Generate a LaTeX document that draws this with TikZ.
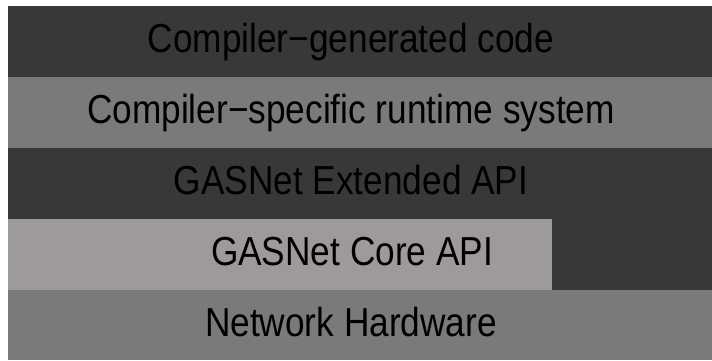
\documentclass[tikz,border=0pt]{standalone}
\usepackage{fontspec}
\setmainfont{Liberation Sans}
\definecolor{darkband}{HTML}{383838}
\definecolor{midband}{HTML}{7A7A7A}
\definecolor{lightband}{HTML}{9E9A9C}
\begin{document}
\begin{tikzpicture}[x=1pt,y=-1pt,
  lbl/.style={font=\fontsize{40.5}{42}\selectfont, text=black, xscale=0.87, inner sep=0pt, anchor=base}]
\useasboundingbox[fill=white] (0,0) rectangle (712,360);
\fill[darkband] (8,6) rectangle (712,77);
\fill[midband] (8,77) rectangle (712,148);
\fill[darkband] (8,148) rectangle (712,290);
\fill[lightband] (8,219) rectangle (552,290);
\fill[midband] (8,290) rectangle (712,360);
\node[lbl] (gen) at (351,52) {Compiler−generated code};
\node[lbl] (rt) at (351,123) {Compiler−specific runtime system};
\node[lbl] (ext) at (351,194) {GASNet Extended API};
\node[lbl] (core) at (352,265) {GASNet Core API};
\node[lbl] (hw) at (351,336.5) {Network Hardware};
\end{tikzpicture}
\end{document}
